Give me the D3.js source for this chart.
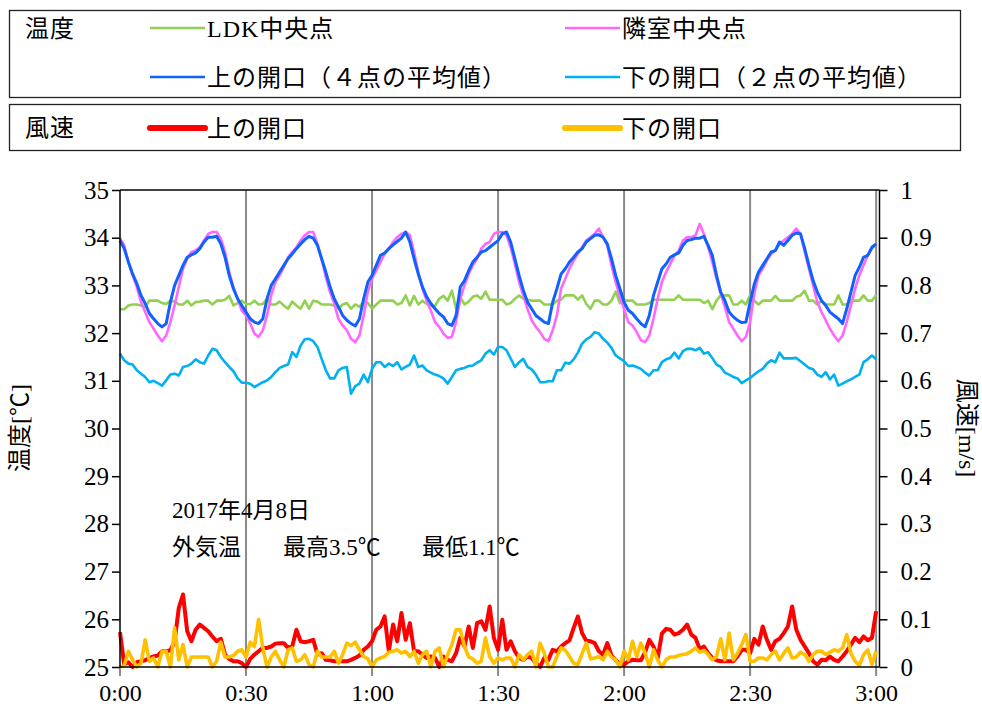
<!DOCTYPE html>
<html><head><meta charset="utf-8">
<script src="https://cdn.jsdelivr.net/npm/d3@7"></script>
<style>
body{margin:0;background:#fff}
svg{display:block}
text{font-family:"Liberation Serif","Noto Sans CJK JP",serif;fill:#000}
</style>
</head><body><svg id="c" width="982" height="708"></svg>
<script>
// time axis (minutes from 0:00), 1-minute samples
const minutes = d3.range(181);
const timeTicks = [0, 30, 60, 90, 120, 150, 180];
const timeLabels = ["0:00", "0:30", "1:00", "1:30", "2:00", "2:30", "3:00"];

// temperature series [°C]
const ldkCenter = [32.50,32.50,32.58,32.60,32.60,32.58,32.55,32.68,32.68,32.68,
 32.63,32.61,32.68,32.66,32.60,32.60,32.68,32.58,32.65,32.66,
 32.68,32.68,32.60,32.68,32.68,32.70,32.78,32.58,32.63,32.68,
 32.61,32.61,32.68,32.60,32.61,32.72,32.60,32.60,32.66,32.58,
 32.51,32.66,32.58,32.51,32.68,32.51,32.68,32.66,32.60,32.60,
 32.60,32.58,32.51,32.60,32.63,32.51,32.60,32.55,32.66,32.63,
 32.51,32.60,32.68,32.68,32.68,32.68,32.60,32.63,32.79,32.58,
 32.78,32.60,32.68,32.61,32.57,32.57,32.72,32.78,32.68,32.89,
 32.51,32.76,32.60,32.66,32.76,32.79,32.72,32.87,32.70,32.70,
 32.70,32.70,32.60,32.63,32.72,32.79,32.72,32.70,32.68,32.68,
 32.68,32.60,32.60,32.60,32.68,32.70,32.79,32.79,32.79,32.70,
 32.79,32.61,32.51,32.68,32.68,32.60,32.60,32.68,32.87,32.63,
 32.68,32.68,32.68,32.60,32.60,32.60,32.63,32.70,32.70,32.70,
 32.70,32.70,32.70,32.79,32.70,32.70,32.70,32.70,32.70,32.63,
 32.68,32.50,32.68,32.79,32.79,32.79,32.60,32.60,32.68,32.60,
 32.80,32.68,32.60,32.68,32.68,32.68,32.78,32.68,32.68,32.68,
 32.68,32.76,32.79,32.89,32.68,32.68,32.60,32.68,32.60,32.60,
 32.60,32.79,32.60,32.60,32.68,32.68,32.68,32.79,32.68,32.68,
 32.80];
const nextRoom = [33.99,33.84,33.49,33.21,32.97,32.65,32.44,32.23,32.09,31.95,
 31.83,31.95,32.23,32.58,32.97,33.35,33.56,33.70,33.73,33.80,
 33.94,34.08,34.12,34.12,33.98,33.70,33.28,32.97,32.72,32.47,
 32.37,32.20,31.99,31.92,32.06,32.37,32.79,33.07,33.21,33.38,
 33.59,33.70,33.80,33.94,34.05,34.12,34.12,33.87,33.56,33.17,
 32.86,32.62,32.30,32.16,32.06,31.88,31.81,31.95,32.37,32.86,
 33.14,33.31,33.49,33.66,33.77,33.91,34.01,34.08,34.12,34.05,
 33.70,33.28,32.93,32.68,32.47,32.23,32.13,31.99,31.90,31.92,
 32.23,32.72,33.00,33.24,33.42,33.56,33.77,33.87,33.91,34.08,
 34.12,34.12,34.05,33.80,33.45,33.07,32.79,32.51,32.27,32.13,
 32.02,31.88,31.83,32.06,32.37,32.93,33.14,33.35,33.52,33.66,
 33.80,33.94,34.01,34.08,34.19,34.01,33.84,33.42,33.07,32.76,
 32.51,32.23,32.16,32.02,31.85,31.81,31.95,32.30,32.72,33.07,
 33.28,33.45,33.63,33.73,33.94,34.01,34.01,34.05,34.29,34.08,
 33.80,33.49,33.14,32.83,32.55,32.23,32.09,31.95,31.83,31.92,
 32.23,32.83,33.21,33.35,33.52,33.66,33.73,33.87,33.94,34.01,
 34.08,34.19,34.08,33.70,33.35,33.00,32.65,32.44,32.27,32.09,
 31.95,31.83,31.95,32.23,32.58,32.93,33.21,33.42,33.63,33.77,
 33.87];
const upperOpeningT = [33.94,33.77,33.49,33.24,33.04,32.79,32.62,32.41,32.30,32.20,
 32.13,32.20,32.65,33.00,33.21,33.42,33.59,33.64,33.68,33.77,
 33.91,34.01,34.01,34.03,33.87,33.59,33.21,32.93,32.72,32.58,
 32.44,32.30,32.23,32.20,32.30,32.72,33.00,33.14,33.28,33.42,
 33.56,33.66,33.77,33.87,33.96,34.03,33.99,33.84,33.56,33.28,
 32.97,32.72,32.55,32.37,32.27,32.20,32.15,32.30,32.72,33.07,
 33.21,33.42,33.63,33.68,33.77,33.85,33.92,33.99,34.12,33.91,
 33.56,33.24,32.97,32.76,32.62,32.51,32.41,32.34,32.20,32.16,
 32.37,32.97,33.10,33.31,33.49,33.59,33.70,33.73,33.80,33.87,
 33.94,34.08,34.12,33.91,33.56,33.21,32.90,32.65,32.51,32.37,
 32.30,32.23,32.20,32.65,32.93,33.24,33.35,33.49,33.59,33.70,
 33.77,33.91,33.98,34.05,34.06,34.01,33.87,33.56,33.21,32.93,
 32.65,32.48,32.41,32.30,32.20,32.13,32.37,32.79,33.07,33.35,
 33.45,33.59,33.64,33.68,33.84,33.94,33.96,33.99,33.99,34.03,
 33.84,33.63,33.21,32.86,32.68,32.44,32.34,32.27,32.22,32.23,
 32.65,33.03,33.28,33.42,33.56,33.70,33.73,33.91,33.84,33.94,
 34.05,34.10,34.08,33.77,33.42,33.10,32.86,32.68,32.58,32.44,
 32.37,32.30,32.20,32.51,32.86,33.21,33.38,33.59,33.63,33.80,
 33.87];
const lowerOpeningT = [31.57,31.43,31.36,31.34,31.22,31.15,31.08,30.97,31.00,30.95,
 30.90,31.01,31.13,31.15,31.11,31.29,31.31,31.36,31.45,31.39,
 31.36,31.53,31.67,31.64,31.50,31.39,31.29,31.20,31.05,30.96,
 30.96,30.94,30.87,30.92,30.97,31.01,31.08,31.18,31.27,31.31,
 31.34,31.60,31.50,31.74,31.87,31.88,31.83,31.71,31.46,31.22,
 31.05,31.05,31.22,31.27,31.29,30.73,30.89,30.94,31.13,30.97,
 31.25,31.39,31.39,31.29,31.36,31.31,31.39,31.24,31.29,31.34,
 31.53,31.29,31.32,31.22,31.17,31.13,31.10,31.05,30.94,31.08,
 31.22,31.25,31.27,31.31,31.32,31.38,31.43,31.57,31.64,31.55,
 31.71,31.71,31.64,31.47,31.29,31.39,31.46,31.29,31.24,31.13,
 30.97,30.97,30.99,30.99,31.22,31.22,31.38,31.36,31.45,31.59,
 31.78,31.87,31.92,32.02,31.99,31.88,31.80,31.69,31.53,31.47,
 31.41,31.31,31.32,31.29,31.25,31.17,31.11,31.22,31.22,31.39,
 31.45,31.48,31.59,31.47,31.62,31.67,31.67,31.64,31.69,31.57,
 31.60,31.48,31.34,31.29,31.17,31.13,31.08,31.05,30.95,31.01,
 31.06,31.13,31.20,31.25,31.36,31.43,31.39,31.59,31.47,31.47,
 31.47,31.48,31.41,31.34,31.27,31.24,31.13,31.08,31.18,31.03,
 31.13,30.90,30.94,30.99,31.03,31.08,31.13,31.39,31.45,31.53,
 31.45];

// wind speed series [m/s]
const upperOpeningW = [0.073,0.005,0.010,0.000,0.010,0.012,0.014,0.019,0.022,0.024,
 0.033,0.033,0.035,0.054,0.124,0.152,0.075,0.054,0.078,0.089,
 0.082,0.075,0.064,0.054,0.059,0.026,0.017,0.012,0.012,0.008,
 0.000,0.017,0.026,0.033,0.040,0.040,0.043,0.049,0.050,0.050,
 0.040,0.043,0.078,0.054,0.052,0.054,0.057,0.026,0.029,0.015,
 0.014,0.012,0.012,0.012,0.012,0.015,0.019,0.024,0.036,0.043,
 0.054,0.078,0.085,0.106,0.033,0.089,0.054,0.113,0.057,0.092,
 0.033,0.033,0.026,0.019,0.022,0.019,0.000,0.022,0.015,0.012,
 0.029,0.061,0.043,0.085,0.040,0.092,0.096,0.078,0.127,0.061,
 0.036,0.099,0.036,0.054,0.033,0.019,0.015,0.022,0.019,0.008,
 0.000,0.019,0.015,0.036,0.033,0.043,0.050,0.056,0.082,0.106,
 0.071,0.055,0.054,0.050,0.033,0.026,0.050,0.024,0.015,0.005,
 0.005,0.012,0.015,0.014,0.014,0.031,0.057,0.043,0.019,0.070,
 0.080,0.078,0.068,0.071,0.078,0.089,0.068,0.061,0.038,0.043,
 0.029,0.019,0.014,0.012,0.012,0.012,0.012,0.022,0.036,0.036,
 0.029,0.059,0.047,0.085,0.057,0.036,0.054,0.059,0.071,0.085,
 0.127,0.078,0.057,0.043,0.029,0.012,0.005,0.015,0.014,0.022,
 0.015,0.012,0.022,0.033,0.047,0.061,0.052,0.064,0.056,0.061,
 0.117];
const lowerOpeningW = [0.000,0.003,0.033,0.015,0.000,0.008,0.057,0.012,0.019,0.000,
 0.033,0.033,0.000,0.082,0.015,0.047,0.000,0.021,0.021,0.021,
 0.021,0.021,0.000,0.012,0.052,0.021,0.021,0.024,0.033,0.036,
 0.021,0.052,0.043,0.100,0.040,0.000,0.021,0.033,0.015,0.000,
 0.036,0.040,0.012,0.015,0.026,0.005,0.000,0.033,0.021,0.021,
 0.021,0.033,0.008,0.026,0.050,0.045,0.052,0.036,0.022,0.017,
 0.000,0.015,0.019,0.022,0.031,0.033,0.036,0.029,0.033,0.022,
 0.033,0.008,0.026,0.033,0.000,0.033,0.040,0.000,0.026,0.047,
 0.078,0.078,0.043,0.021,0.017,0.008,0.012,0.061,0.022,0.008,
 0.019,0.015,0.019,0.019,0.000,0.026,0.015,0.026,0.033,0.000,
 0.050,0.029,0.000,0.000,0.022,0.040,0.035,0.022,0.008,0.005,
 0.028,0.050,0.017,0.019,0.022,0.015,0.033,0.021,0.015,0.000,
 0.033,0.015,0.054,0.022,0.050,0.029,0.000,0.036,0.015,0.000,
 0.015,0.021,0.021,0.024,0.026,0.028,0.033,0.040,0.031,0.035,
 0.026,0.015,0.022,0.059,0.015,0.071,0.015,0.029,0.047,0.068,
 0.012,0.012,0.019,0.019,0.015,0.026,0.033,0.015,0.029,0.040,
 0.019,0.021,0.031,0.026,0.012,0.026,0.033,0.033,0.026,0.031,
 0.036,0.033,0.040,0.068,0.029,0.012,0.003,0.026,0.036,0.005,
 0.033];

const tempSeries = [
  {name: "下の開口（２点の平均値）", values: lowerOpeningT, color: "#00b0f0", width: 2.6},
  {name: "LDK中央点", values: ldkCenter, color: "#92d050", width: 2.6},
  {name: "隣室中央点", values: nextRoom, color: "#ff66ff", width: 2.6},
  {name: "上の開口（４点の平均値）", values: upperOpeningT, color: "#0f62fe", width: 3}
];
const windSeries = [
  {name: "上の開口", values: upperOpeningW, color: "#ff0000", width: 4},
  {name: "下の開口", values: lowerOpeningW, color: "#ffc000", width: 3.6}
];

const svg = d3.select("#c");
const L = 120, R = 879.5, T = 190, B = 667;
const x = d3.scaleLinear().domain([0, 180.8]).range([L, R]);
const yT = d3.scaleLinear().domain([25, 35]).range([B, T]);
const yW = d3.scaleLinear().domain([0, 1]).range([B, T]);

// legend boxes
const lg = svg.append("g");
lg.append("rect").attr("x", 9.5).attr("y", 10.5).attr("width", 951).attr("height", 87)
  .attr("fill", "none").attr("stroke", "#222").attr("stroke-width", 1.3);
lg.append("rect").attr("x", 9.5).attr("y", 104.5).attr("width", 951).attr("height", 46)
  .attr("fill", "none").attr("stroke", "#222").attr("stroke-width", 1.3);
const lfs = 24;
lg.append("text").attr("x", 25).attr("y", 37).attr("font-size", lfs).attr("letter-spacing", 1).text("温度");
lg.append("text").attr("x", 25).attr("y", 136).attr("font-size", lfs).attr("letter-spacing", 1).text("風速");
const legendItems = [
  {s: tempSeries[1], x: 150, y: 28},
  {s: tempSeries[2], x: 565, y: 28},
  {s: tempSeries[3], x: 150, y: 77},
  {s: tempSeries[0], x: 565, y: 77},
  {s: windSeries[0], x: 150, y: 128},
  {s: windSeries[1], x: 565, y: 128}
];
legendItems.forEach(it => {
  const thick = it.s.width >= 3.5;
  lg.append("line").attr("x1", it.x).attr("x2", it.x + 55).attr("y1", it.y).attr("y2", it.y)
    .attr("stroke", it.s.color).attr("stroke-width", thick ? 6 : 2.6)
    .attr("stroke-linecap", thick ? "round" : "butt");
  lg.append("text").attr("x", it.x + 57).attr("y", it.y + 9).attr("font-size", lfs)
    .attr("letter-spacing", 1).text(it.s.name);
});

// vertical gridlines (with tick extension below the axis)
svg.append("g").selectAll("line").data(timeTicks).join("line")
  .attr("x1", d => x(d)).attr("x2", d => x(d))
  .attr("y1", d => d === 0 ? B : T).attr("y2", B + 9)
  .attr("stroke", "#8a8a8a").attr("stroke-width", 2);

// lines
const lineGen = (ys) => d3.line().x((d, i) => x(minutes[i])).y(d => ys(d));
const plot = svg.append("g");
windSeries.forEach(s => {
  plot.append("path").datum(s.values).attr("d", lineGen(yW))
    .attr("fill", "none").attr("stroke", s.color).attr("stroke-width", s.width)
    .attr("stroke-linejoin", "round");
});
tempSeries.forEach(s => {
  plot.append("path").datum(s.values).attr("d", lineGen(yT))
    .attr("fill", "none").attr("stroke", s.color).attr("stroke-width", s.width)
    .attr("stroke-linejoin", "round");
});

// frame
svg.append("line").attr("x1", L).attr("x2", R).attr("y1", T).attr("y2", T)
  .attr("stroke", "#000").attr("stroke-width", 1.5);

// axes
const fs = 25;
const axL = svg.append("g").attr("transform", `translate(${L},0)`)
  .call(d3.axisLeft(yT).ticks(10).tickSize(8).tickPadding(3).tickFormat(d3.format("d")));
const axR = svg.append("g").attr("transform", `translate(${R},0)`)
  .call(d3.axisRight(yW).ticks(10).tickSize(8).tickPadding(13).tickFormat(d3.format("~g")));
const axB = svg.append("g").attr("transform", `translate(0,${B})`)
  .call(d3.axisBottom(x).tickValues(timeTicks).tickSize(0).tickPadding(17)
    .tickFormat((d, i) => timeLabels[i]));
[axL, axR, axB].forEach(a => {
  a.select(".domain").attr("stroke", "#000").attr("stroke-width", 1.5);
  a.selectAll(".tick line").attr("stroke", "#000").attr("stroke-width", 1.5);
  a.selectAll(".tick text").attr("font-size", fs).attr("font-family", "Liberation Serif, serif").attr("fill", "#000");
});
axB.selectAll(".tick text").attr("font-size", 24);
axL.select(".domain").attr("d", `M0,${T}V${B}`);
axR.select(".domain").attr("d", `M0,${T}V${B}`);
axB.select(".domain").attr("d", `M${L},0H${R}`);

// axis titles
svg.append("text").attr("transform", `translate(28,428) rotate(-90)`).attr("text-anchor", "middle")
  .attr("font-size", 24).text("温度[℃]");
svg.append("text").attr("transform", `translate(959,428) rotate(90)`).attr("text-anchor", "middle")
  .attr("font-size", 24).text("風速[m/s]");

// annotation
const ann = svg.append("g").attr("font-size", 23);
ann.append("text").attr("x", 172).attr("y", 518).text("2017年4月8日");
ann.append("text").attr("x", 172).attr("y", 555).text("外気温");
ann.append("text").attr("x", 283).attr("y", 555).text("最高3.5℃");
ann.append("text").attr("x", 422).attr("y", 555).text("最低1.1℃");
</script></body></html>
